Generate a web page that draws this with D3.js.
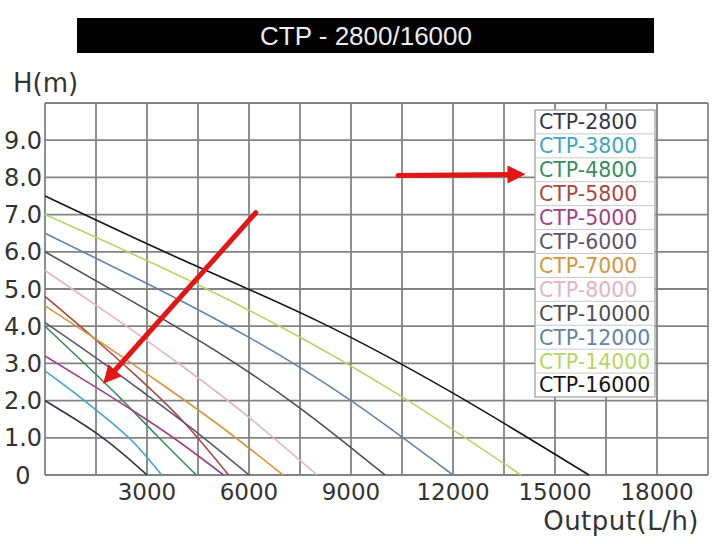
<!DOCTYPE html>
<html>
<head>
<meta charset="utf-8">
<script src="https://cdn.jsdelivr.net/npm/d3@7"></script>
<style>
  body { margin: 0; background: #fff; }
  svg { display: block; }
</style>
</head>
<body>
<svg width="725" height="544"></svg>
<script>
// pump curves, flow (L/h) vs head (m)
var names = ["CTP-2800", "CTP-3800", "CTP-4800", "CTP-5800", "CTP-5000", "CTP-6000",
             "CTP-7000", "CTP-8000", "CTP-10000", "CTP-12000", "CTP-14000", "CTP-16000"];
var colors = ["#35354a", "#3fa6c4", "#3b8c5c", "#a8483f", "#a23f86", "#5d5470",
              "#d7953f", "#e3b4c4", "#4e4e52", "#6482a4", "#b6d565", "#151515"];

var ctp2800  = [[0, 2.0], [750, 1.58], [1500, 1.13], [2250, 0.6], [3000, 0]];
var ctp3800  = [[0, 2.8], [850, 2.22], [1700, 1.6], [2600, 0.88], [3430, 0]];
var ctp4800  = [[0, 4.0], [1100, 3.05], [2200, 2.08], [3300, 1.05], [4450, 0]];
var ctp5800  = [[0, 4.8], [1350, 3.75], [2700, 2.65], [4050, 1.45], [5400, 0]];
var ctp5000  = [[0, 3.2], [1300, 2.47], [2600, 1.72], [3900, 0.92], [5250, 0]];
var ctp6000  = [[0, 4.1], [1500, 3.15], [3000, 2.15], [4500, 1.12], [6000, 0]];
var ctp7000  = [[0, 4.55], [1750, 3.5], [3500, 2.4], [5250, 1.25], [7000, 0]];
var ctp8000  = [[0, 5.5], [2000, 4.25], [4000, 2.95], [6000, 1.55], [8000, 0]];
var ctp10000 = [[0, 6.0], [2500, 4.7], [5000, 3.35], [7500, 1.8], [10000, 0]];
var ctp12000 = [[0, 6.5], [3000, 5.15], [6000, 3.7], [9000, 2.0], [12000, 0]];
var ctp14000 = [[0, 7.0], [3500, 5.55], [7000, 3.95], [10500, 2.1], [14000, 0]];
var ctp16000 = [[0, 7.5], [4000, 5.8], [8000, 4.15], [12000, 2.2], [16000, 0]];

var series = [ctp2800, ctp3800, ctp4800, ctp5800, ctp5000, ctp6000,
              ctp7000, ctp8000, ctp10000, ctp12000, ctp14000, ctp16000];

var xGrid = d3.range(0, 19501, 1500);
var xLabels = [3000, 6000, 9000, 12000, 15000, 18000];
var yGrid = d3.range(0, 11, 1);
var yLabels = ["0", "1.0", "2.0", "3.0", "4.0", "5.0", "6.0", "7.0", "8.0", "9.0"];

// red arrows, in data units: [x1, y1, x2, y2]
var arrows = [[10380, 8.05, 13920, 8.08], [6200, 7.05, 1850, 2.6]];

var svg = d3.select("svg");

var x = d3.scaleLinear().domain([0, 19500]).range([45, 708]);
var y = d3.scaleLinear().domain([0, 10]).range([475, 103]);

// title bar
svg.append("rect")
    .attr("x", 77).attr("y", 18).attr("width", 577).attr("height", 35)
    .attr("fill", "#000");
svg.append("text")
    .attr("x", 366).attr("y", 45)
    .attr("text-anchor", "middle")
    .style("font-family", "Liberation Sans, Arial, sans-serif")
    .style("font-size", "26px")
    .attr("fill", "#ececec")
    .text("CTP - 2800/16000");

// grid
var grid = svg.append("g").attr("stroke", "#838383").attr("stroke-width", 1.8);
grid.selectAll("line.v").data(xGrid).enter().append("line")
    .attr("x1", function(d) { return x(d); }).attr("x2", function(d) { return x(d); })
    .attr("y1", y(0)).attr("y2", y(10));
grid.selectAll("line.h").data(yGrid).enter().append("line")
    .attr("x1", x(0)).attr("x2", x(19500))
    .attr("y1", function(d) { return y(d); }).attr("y2", function(d) { return y(d); });

// axis labels
var axisFont = "DejaVu Sans, sans-serif";
svg.append("g").selectAll("text").data(xLabels).enter().append("text")
    .attr("x", function(d) { return x(d); })
    .attr("y", 500)
    .attr("text-anchor", "middle")
    .style("font-family", axisFont).style("font-size", "23px")
    .attr("fill", "#333")
    .text(function(d) { return d; });

svg.append("g").selectAll("text").data(yLabels).enter().append("text")
    .attr("x", 23)
    .attr("y", function(d, i) { return y(i); })
    .attr("dy", "0.36em")
    .attr("text-anchor", "middle")
    .style("font-family", axisFont).style("font-size", "24px")
    .attr("fill", "#333")
    .text(function(d) { return d; });

svg.append("text")
    .attr("x", 13).attr("y", 92)
    .style("font-family", axisFont).style("font-size", "26px")
    .attr("fill", "#333")
    .text("H(m)");

svg.append("text")
    .attr("x", 699).attr("y", 530)
    .attr("text-anchor", "end")
    .style("font-family", axisFont).style("font-size", "26px")
    .style("letter-spacing", "0.5px")
    .attr("fill", "#333")
    .text("Output(L/h)");

// curves
var line = d3.line()
    .x(function(d) { return x(d[0]); })
    .y(function(d) { return y(d[1]); })
    .curve(d3.curveNatural);

svg.append("g").selectAll("path").data(series).enter().append("path")
    .attr("d", line)
    .attr("fill", "none")
    .attr("stroke", function(d, i) { return colors[i]; })
    .attr("stroke-width", 1.6);

// legend
var rows = d3.scaleBand().domain(names).range([110, 397]);
var legend = svg.append("g");
legend.append("rect")
    .attr("x", 535).attr("y", 110).attr("width", 120).attr("height", 287)
    .attr("fill", "#fff").attr("stroke", "#999").attr("stroke-width", 1.2);
legend.selectAll("line").data(names.slice(1)).enter().append("line")
    .attr("x1", 535).attr("x2", 655)
    .attr("y1", function(d) { return rows(d); }).attr("y2", function(d) { return rows(d); })
    .attr("stroke", "#c8c8c8").attr("stroke-width", 1);
legend.selectAll("text").data(names).enter().append("text")
    .attr("x", 539)
    .attr("y", function(d) { return rows(d) + rows.bandwidth() / 2; })
    .attr("dy", "0.36em")
    .style("font-family", axisFont).style("font-size", "20.5px")
    .attr("fill", function(d, i) { return colors[i]; })
    .text(function(d) { return d; });

// red arrows
svg.append("defs").append("marker")
    .attr("id", "head")
    .attr("viewBox", "0 0 10 10")
    .attr("refX", 6).attr("refY", 5)
    .attr("markerWidth", 4).attr("markerHeight", 3.6)
    .attr("orient", "auto")
  .append("path")
    .attr("d", "M0,0 L10,5 L0,10 Z")
    .attr("fill", "#e31515");

svg.append("g").selectAll("line").data(arrows).enter().append("line")
    .attr("x1", function(d) { return x(d[0]); })
    .attr("y1", function(d) { return y(d[1]); })
    .attr("x2", function(d) { return x(d[2]); })
    .attr("y2", function(d) { return y(d[3]); })
    .attr("stroke", "#e31515")
    .attr("stroke-width", 5)
    .attr("stroke-linecap", "round")
    .attr("marker-end", "url(#head)");
</script>
</body>
</html>
